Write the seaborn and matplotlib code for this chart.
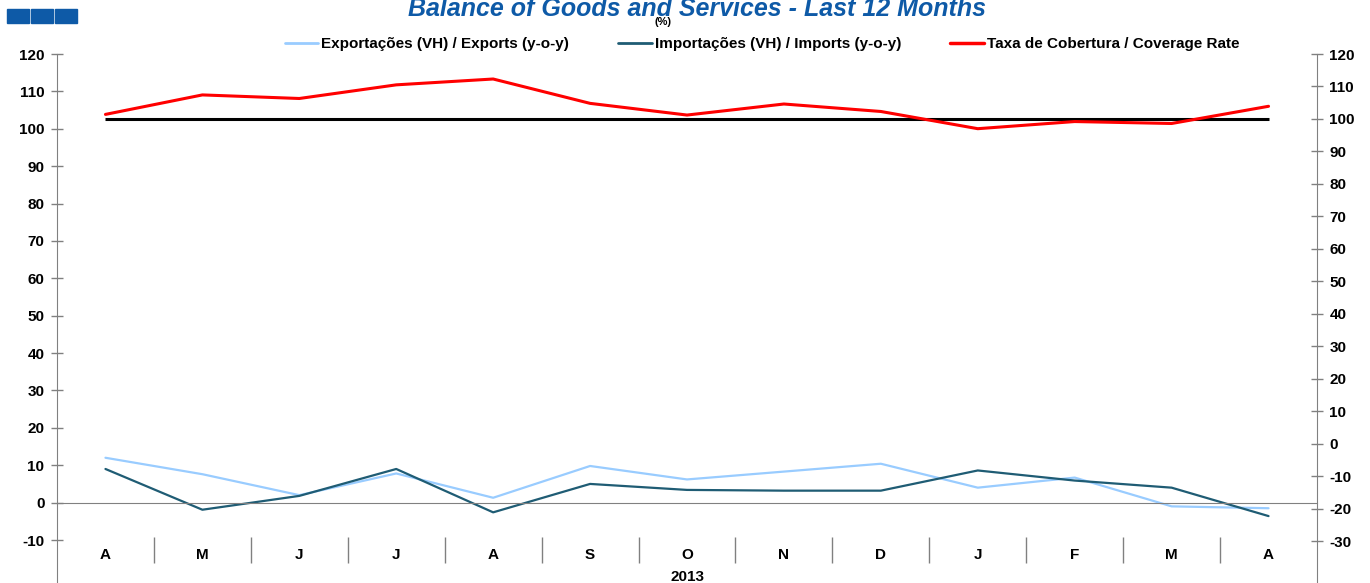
import numpy as np
import pandas as pd
import seaborn as sns
import matplotlib.pyplot as plt
from matplotlib.lines import Line2D
from matplotlib.patches import Rectangle

# data (Apr 2012 - Apr 2013)
months = ['A', 'M', 'J', 'J', 'A', 'S', 'O', 'N', 'D', 'J', 'F', 'M', 'A']
exports_yoy = [12.0, 7.6, 2.0, 7.8, 1.3, 9.8, 6.2, 8.3, 10.4, 4.0, 6.7, -1.0, -1.5]
imports_yoy = [9.0, -1.9, 1.8, 9.0, -2.6, 5.0, 3.4, 3.2, 3.2, 8.6, 5.9, 4.0, -3.6]
coverage_rate = [101.4, 107.4, 106.3, 110.5, 112.3, 104.8, 101.2, 104.6, 102.3, 97.0, 99.2, 98.6, 103.9]
reference_level = 100
year_label = '2013'

left_ticks = np.arange(-10, 121, 10)
right_ticks = np.arange(-30, 121, 10)

lbl_exp = 'Exportações (VH) / Exports (y-o-y)'
lbl_imp = 'Importações (VH) / Imports (y-o-y)'
lbl_cov = 'Taxa de Cobertura / Coverage Rate'

c_exp = '#99CCFF'
c_imp = '#1F5C74'
c_cov = '#FF0000'
c_axis = '#808080'
c_blue = '#0E5AA7'

sns.set_style('white')
plt.rcParams['font.family'] = ['Liberation Sans', 'DejaVu Sans']
plt.rcParams['font.weight'] = 'bold'
plt.rcParams['font.size'] = 11
plt.rcParams['text.color'] = 'black'
plt.rcParams['xtick.labelcolor'] = 'black'
plt.rcParams['ytick.labelcolor'] = 'black'

W, H = 1370, 583
fig = plt.figure(figsize=(W / 100, H / 100), dpi=100)
ax = fig.add_axes([57 / W, 0, (1317 - 57) / W, (H - 54) / H])
ax2 = ax.twinx()

x = np.arange(len(months))
growth = pd.DataFrame({
    'x': np.concatenate([x, x]),
    'value': exports_yoy + imports_yoy,
    'series': [lbl_exp] * len(x) + [lbl_imp] * len(x),
})
sns.lineplot(data=growth, x='x', y='value', hue='series',
             palette={lbl_exp: c_exp, lbl_imp: c_imp},
             linewidth=1.6, legend=False, ax=ax)

ax2.hlines(reference_level, x[0], x[-1], color='black', linewidth=2.2, zorder=2)
sns.lineplot(x=x, y=coverage_rate, color=c_cov, linewidth=2.2, ax=ax2, zorder=3)

# left axis
ax.set_xlim(-0.5, len(months) - 0.5)
ax.set_ylim(-21.5, 120)
ax.set_yticks(left_ticks)
ax.set_yticklabels([str(v) for v in left_ticks], fontweight='bold')
ax.set_xlabel('')
ax.set_ylabel('')
for s in ['top', 'right']:
    ax.spines[s].set_visible(False)
ax.spines['left'].set_color(c_axis)
ax.spines['bottom'].set_color(c_axis)
ax.spines['bottom'].set_position(('data', 0))
ax.tick_params(axis='y', direction='inout', length=8, width=1, color=c_axis, pad=5, labelsize=11)

ax.set_xticks(x)
ax.set_xticklabels(months, fontweight='bold')
ax.set_xticks(x[:-1] + 0.5, minor=True)
ax.tick_params(axis='x', which='major', length=0, pad=33, labelsize=11)
ax.tick_params(axis='x', which='minor', direction='out', length=3.5, width=1, color=c_axis)

# category separators and year label
ax.vlines(x[:-1] + 0.5, -16.2, -9.2, color=c_axis, linewidth=1)
ax.text(np.mean(x), -20.0, year_label, ha='center', va='center', fontsize=11, fontweight='bold')

# right axis
ax2.set_ylim(-42.9, 120)
ax2.set_yticks(right_ticks)
ax2.set_yticklabels([str(v) for v in right_ticks], fontweight='bold')
ax2.set_ylabel('')
for s in ['top', 'left', 'bottom']:
    ax2.spines[s].set_visible(False)
ax2.spines['right'].set_color(c_axis)
ax2.tick_params(axis='y', direction='inout', length=8, width=1, color=c_axis, pad=5, labelsize=11)

# header
for x0 in [7, 31, 55]:
    fig.patches.append(Rectangle((x0 / W, 1 - 22.5 / H), 21.5 / W, 13.5 / H,
                                 transform=fig.transFigure, color=c_blue))
fig.text(697 / W, 1 - 16 / H, 'Balance of Goods and Services - Last 12 Months',
         ha='center', va='baseline', fontsize=18, fontweight='bold', fontstyle='italic', color=c_blue)
fig.text(663 / W, 1 - 22 / H, '(%)', ha='center', va='center', fontsize=8, fontweight='bold')

handles = [Line2D([], [], color=c_exp, linewidth=2),
           Line2D([], [], color=c_imp, linewidth=2),
           Line2D([], [], color=c_cov, linewidth=2.5)]
fig.legend(handles, [lbl_exp, lbl_imp, lbl_cov], loc='center', bbox_to_anchor=(762 / W, 1 - 44 / H),
           ncol=3, frameon=False, handlelength=2.2, handletextpad=0.2, columnspacing=3.2,
           prop={'weight': 'bold', 'size': 11})

fig.savefig('out.png', dpi=100)
